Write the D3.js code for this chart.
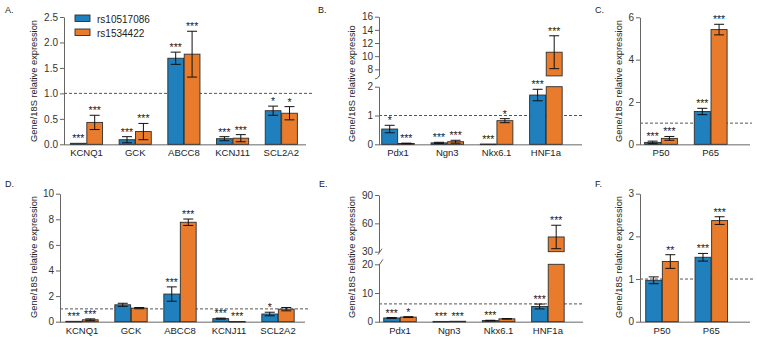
<!DOCTYPE html>
<html>
<head>
<meta charset="utf-8">
<script src="https://cdn.jsdelivr.net/npm/d3@7"></script>
<style>
  body { margin: 0; background: #fff; }
  svg { font-family: "Liberation Sans", Arial, sans-serif; }
</style>
</head>
<body>
<div id="chart"></div>
<script>
const width = 757;
const height = 338;

const series = ["rs10517086", "rs1534422"];
const colors = ["#1f80bd", "#e97b2c"];

// A. beta-cell genes, top row
const genesA = ["KCNQ1", "GCK", "ABCC8", "KCNJ11", "SCL2A2"];
const meanA1 = [0.02, 0.09, 1.69, 0.11, 0.66];
const semA1 = [0.0, 0.06, 0.12, 0.04, 0.09];
const meanA2 = [0.43, 0.25, 1.77, 0.12, 0.61];
const semA2 = [0.14, 0.16, 0.45, 0.07, 0.13];
const starsA1 = ["***", "***", "***", "***", "*"];
const starsA2 = ["***", "***", "***", "***", "*"];
const ticksA = [0, 0.5, 1, 1.5, 2, 2.5];

// B. transcription factors, top row (broken axis)
const genesB = ["Pdx1", "Ngn3", "Nkx6.1", "HNF1a"];
const meanB1 = [0.53, 0.05, 0.01, 1.71];
const semB1 = [0.13, 0.02, 0.0, 0.2];
const meanB2 = [0.03, 0.09, 0.82, 10.6];
const semB2 = [0.01, 0.05, 0.07, 2.5];
const starsB1 = ["*", "***", "***", "***"];
const starsB2 = ["***", "***", "*", "***"];
const ticksBLow = [0, 1, 2];
const ticksBHigh = [8, 10, 12, 14, 16];

// C. NF-kB, top row
const genesC = ["P50", "P65"];
const meanC1 = [0.09, 1.55];
const semC1 = [0.06, 0.15];
const meanC2 = [0.28, 5.42];
const semC2 = [0.09, 0.25];
const starsC1 = ["***", "***"];
const starsC2 = ["***", "***"];
const ticksC = [0, 2, 4, 6];

// D. beta-cell genes, bottom row
const meanD1 = [0.03, 1.32, 2.16, 0.24, 0.6];
const semD1 = [0.0, 0.12, 0.56, 0.04, 0.14];
const meanD2 = [0.15, 1.06, 7.77, 0.02, 0.98];
const semD2 = [0.07, 0.05, 0.25, 0.0, 0.13];
const starsD1 = ["***", "", "***", "***", "*"];
const starsD2 = ["***", "", "***", "***", ""];
const ticksD = [0, 2, 4, 6, 8, 10];

// E. transcription factors, bottom row (broken axis)
const meanE1 = [1.3, 0.1, 0.4, 5.3];
const semE1 = [0.15, 0.0, 0.1, 0.85];
const meanE2 = [1.6, 0.15, 1.0, 45.6];
const semE2 = [0.15, 0.0, 0.1, 12.4];
const starsE1 = ["***", "***", "***", "***"];
const starsE2 = ["*", "***", "", "***"];
const ticksELow = [0, 10, 20];
const ticksEHigh = [30, 60, 90];

// F. NF-kB, bottom row
const meanF1 = [0.97, 1.51];
const semF1 = [0.08, 0.09];
const meanF2 = [1.41, 2.37];
const semF2 = [0.16, 0.09];
const starsF1 = ["", "***"];
const starsF2 = ["**", "***"];
const ticksF = [0, 1, 2, 3];

const yTitle = "Gene/18S relative expression";

const svg = d3
  .select("#chart")
  .append("svg")
  .attr("width", width)
  .attr("height", height);

const panels = [
  {
    label: "A.", lx: 5, ly: 13, cats: genesA,
    vals: [meanA1, meanA2], sems: [semA1, semA2], stars: [starsA1, starsA2],
    axisX: 64, firstCenter: 86.5, step: 48.7, baseEnd: 306, dashEnd: 313, ref: 1,
    titleX: 37, titleY: 81, title: yTitle,
    segs: [{ domain: [0, 2.5], range: [144.3, 17], ticks: ticksA, fmt: d3.format(".1f") }],
  },
  {
    label: "B.", lx: 318, ly: 13, cats: genesB,
    vals: [meanB1, meanB2], sems: [semB1, semB2], stars: [starsB1, starsB2],
    axisX: 379, firstCenter: 398, step: 49.3, baseEnd: 582, dashEnd: 582, ref: 1,
    titleX: 355, titleY: 142, title: "Gene/18S relative expressio", titleStart: true,
    segs: [
      { domain: [0, 2], range: [144.3, 86.7], ticks: ticksBLow, fmt: d3.format("d") },
      { domain: [7, 16], range: [75.9, 16.7], ticks: ticksBHigh, fmt: d3.format("d"), hook: true },
    ],
  },
  {
    label: "C.", lx: 595, ly: 13, cats: genesC,
    vals: [meanC1, meanC2], sems: [semC1, semC2], stars: [starsC1, starsC2],
    axisX: 640, firstCenter: 661, step: 49.7, baseEnd: 750, dashEnd: 752, ref: 1,
    titleX: 622, titleY: 81, title: yTitle,
    segs: [{ domain: [0, 6], range: [144.3, 17.3], ticks: ticksC, fmt: d3.format("d") }],
  },
  {
    label: "D.", lx: 5, ly: 187, cats: genesA,
    vals: [meanD1, meanD2], sems: [semD1, semD2], stars: [starsD1, starsD2],
    axisX: 60, firstCenter: 82, step: 49, baseEnd: 305, dashEnd: 310, ref: 1,
    titleX: 37, titleY: 257, title: yTitle,
    segs: [{ domain: [0, 10], range: [321.7, 193.7], ticks: ticksD, fmt: d3.format("d") }],
  },
  {
    label: "E.", lx: 319, ly: 187, cats: genesB,
    vals: [meanE1, meanE2], sems: [semE1, semE2], stars: [starsE1, starsE2],
    axisX: 379, firstCenter: 400, step: 49.3, baseEnd: 583, dashEnd: 583, ref: 6.2,
    titleX: 355, titleY: 257, title: yTitle,
    segs: [
      { domain: [0, 20], range: [321.7, 264.3], ticks: ticksELow, fmt: d3.format("d"), slashTop: true },
      { domain: [30, 90], range: [251.7, 195], ticks: ticksEHigh, fmt: d3.format("d"), slashBottom: true },
    ],
  },
  {
    label: "F.", lx: 595, ly: 187, cats: genesC,
    vals: [meanF1, meanF2], sems: [semF1, semF2], stars: [starsF1, starsF2],
    axisX: 640, firstCenter: 662, step: 49.3, baseEnd: 750, dashEnd: 753, ref: 1,
    titleX: 622, titleY: 257, title: yTitle,
    segs: [{ domain: [0, 3], range: [321.7, 193.7], ticks: ticksF, fmt: d3.format("d") }],
  },
];

function drawPanel(p) {
  const g = svg.append("g");
  p.segs.forEach((s) => (s.scale = d3.scaleLinear().domain(s.domain).range(s.range)));
  const segFor = (v) => p.segs.find((s) => v <= s.domain[1]) || p.segs[p.segs.length - 1];
  const y0 = p.segs[0].range[0];

  const r0 = p.firstCenter - p.step / 2;
  const x = d3
    .scaleBand()
    .domain(p.cats)
    .range([r0, r0 + p.cats.length * p.step])
    .paddingInner(0.34)
    .paddingOuter(0.17);
  const xs = d3.scaleBand().domain(series).range([0, x.bandwidth()]).paddingInner(0.04);

  // reference line (behind bars)
  const refSeg = segFor(p.ref);
  g.append("line")
    .attr("x1", p.axisX)
    .attr("x2", p.dashEnd)
    .attr("y1", refSeg.scale(p.ref))
    .attr("y2", refSeg.scale(p.ref))
    .attr("stroke", "#555")
    .attr("stroke-width", 1)
    .attr("stroke-dasharray", "3,2");

  // baseline
  g.append("line")
    .attr("x1", p.axisX)
    .attr("x2", p.baseEnd)
    .attr("y1", y0 + 0.5)
    .attr("y2", y0 + 0.5)
    .attr("stroke", "#9a9a9a")
    .attr("stroke-width", 1.6);

  series.forEach((name, si) => {
    p.cats.forEach((cat, i) => {
      const v = p.vals[si][i];
      const e = p.sems[si][i];
      const bx = x(cat) + xs(name);
      const bw = xs.bandwidth();
      const cx = bx + bw / 2;

      // bar pieces, one per axis segment
      p.segs.forEach((s) => {
        const lo = s.domain[0];
        if (v <= lo) return;
        const top = Math.min(v, s.domain[1]);
        g.append("rect")
          .attr("x", bx)
          .attr("y", s.scale(top))
          .attr("width", bw)
          .attr("height", Math.max(0.6, s.scale(lo) - s.scale(top)))
          .attr("fill", colors[si])
          .attr("stroke", "#2e2e2e")
          .attr("stroke-width", 0.9);
      });

      const s = segFor(v);
      if (e > 0) {
        const yHi = s.scale(v + e);
        const yLo = s.scale(Math.max(0, v - e));
        g.append("line").attr("x1", cx).attr("x2", cx).attr("y1", yHi).attr("y2", yLo)
          .attr("stroke", "#111").attr("stroke-width", 1);
        [yHi, yLo].forEach((yy) => {
          g.append("line").attr("x1", cx - 5).attr("x2", cx + 5).attr("y1", yy).attr("y2", yy)
            .attr("stroke", "#111").attr("stroke-width", 1);
        });
      }

      const st = p.stars[si][i];
      if (st) {
        g.append("text")
          .attr("x", cx)
          .attr("y", s.scale(v + e) - 1)
          .attr("text-anchor", "middle")
          .attr("font-size", 10.5)
          .attr("fill", "#222")
          .text(st);
      }
    });
  });

  // y axis segments
  p.segs.forEach((s) => {
    const ax = g
      .append("g")
      .attr("transform", `translate(${p.axisX},0)`)
      .call(
        d3.axisLeft(s.scale).tickValues(s.ticks).tickFormat(s.fmt).tickSize(4).tickSizeOuter(0).tickPadding(2)
      );
    ax.select(".domain").attr("stroke", "#666");
    ax.selectAll(".tick line").attr("stroke", "#666");
    ax.selectAll(".tick text").attr("font-size", 10).attr("fill", "#333");
    if (s.hook) {
      const yb = s.range[0];
      g.append("path").attr("d", `M${p.axisX},${yb} q-1,3 -4,3`).attr("fill", "none").attr("stroke", "#666");
    }
    if (s.slashTop) {
      const yt = s.range[1];
      g.append("line").attr("x1", p.axisX).attr("x2", p.axisX + 4).attr("y1", yt + 1).attr("y2", yt - 5)
        .attr("stroke", "#666");
    }
    if (s.slashBottom) {
      const yb = s.range[0];
      g.append("line").attr("x1", p.axisX - 1).attr("x2", p.axisX + 3).attr("y1", yb + 3).attr("y2", yb - 3)
        .attr("stroke", "#666");
    }
  });

  // category labels
  g.selectAll("text.cat")
    .data(p.cats)
    .enter()
    .append("text")
    .attr("class", "cat")
    .attr("x", (d) => x(d) + x.bandwidth() / 2)
    .attr("y", y0 + 12)
    .attr("text-anchor", "middle")
    .attr("font-size", 9.5)
    .attr("fill", "#222")
    .text((d) => d);

  // y title
  g.append("text")
    .attr("transform", `translate(${p.titleX},${p.titleY}) rotate(-90)`)
    .attr("text-anchor", p.titleStart ? "start" : "middle")
    .attr("font-size", 9.3)
    .attr("fill", "#222")
    .text(p.title);

  // panel label
  g.append("text")
    .attr("x", p.lx)
    .attr("y", p.ly)
    .attr("font-size", 9)
    .attr("fill", "#222")
    .text(p.label);
}

panels.forEach(drawPanel);

// legend
const legend = svg.append("g");
series.forEach((name, i) => {
  legend.append("rect")
    .attr("x", 75)
    .attr("y", 15 + i * 14)
    .attr("width", 15)
    .attr("height", 6.5)
    .attr("fill", colors[i])
    .attr("stroke", "#2e2e2e")
    .attr("stroke-width", 0.9);
  legend.append("text")
    .attr("x", 97)
    .attr("y", 22.5 + i * 14)
    .attr("font-size", 10)
    .attr("fill", "#222")
    .text(name);
});
</script>
</body>
</html>
